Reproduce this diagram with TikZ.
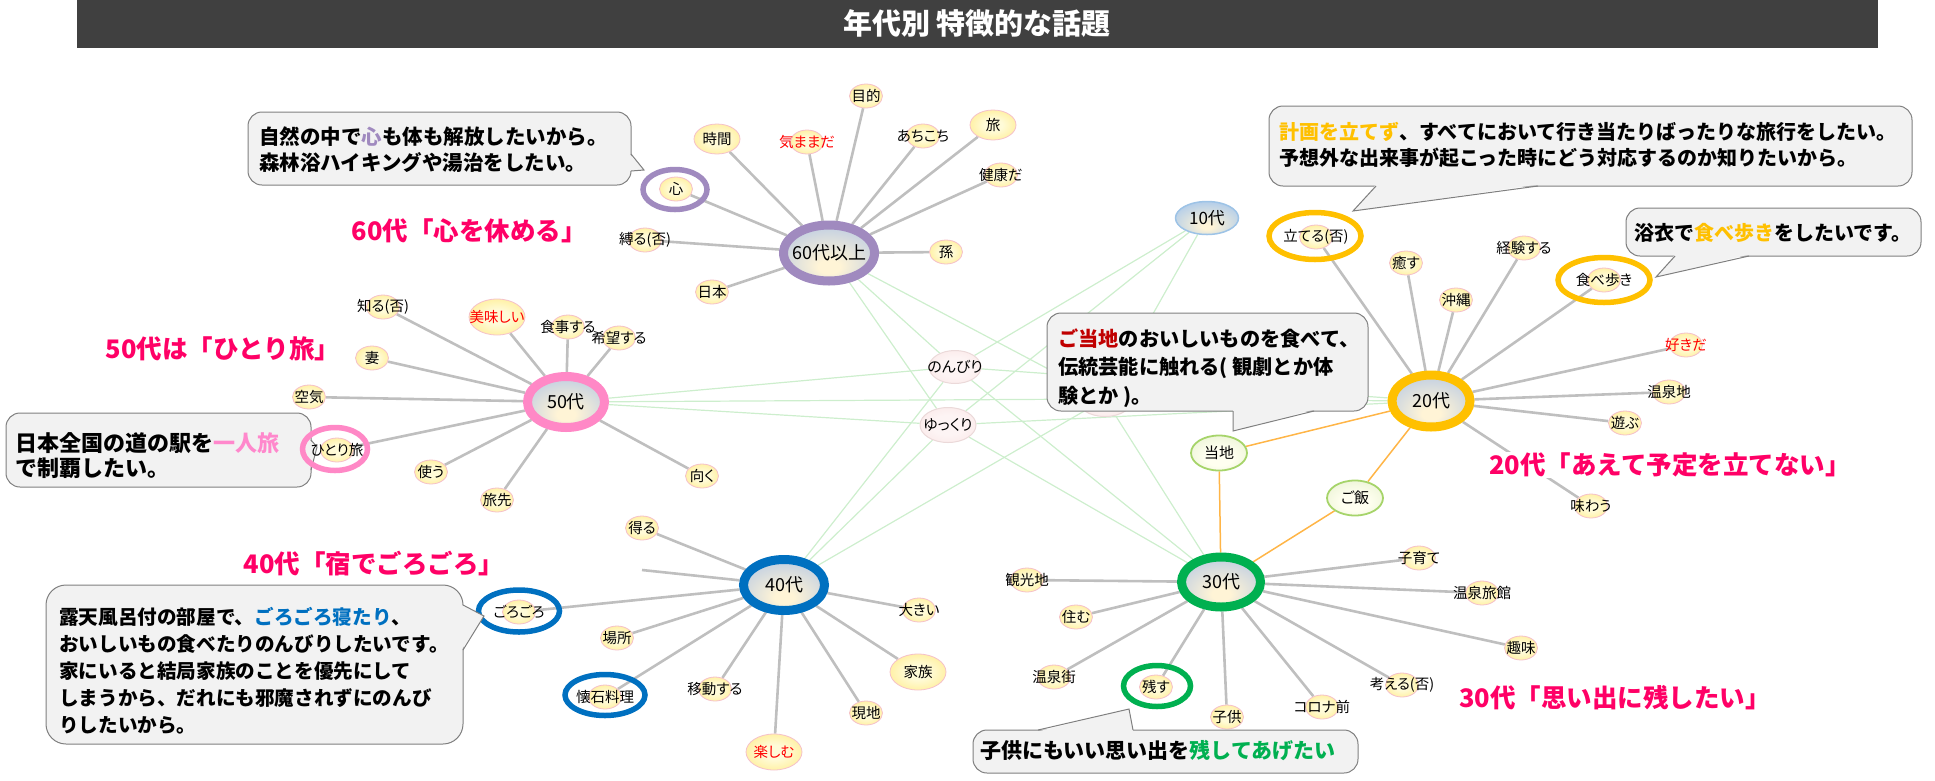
\documentclass[tikz,border=0pt]{standalone}
\usepackage{fontspec}
\setmainfont{Noto Sans CJK JP}
\newfontfamily\jpp{Noto Sans CJK JP}[RawFeature=+palt]
\usetikzlibrary{shapes.geometric}
\definecolor{barcol}{HTML}{404040}
\definecolor{tpink}{HTML}{FF0066}
\definecolor{ring60}{HTML}{A08ABF}
\definecolor{ring50}{HTML}{FF88C6}
\definecolor{ring40}{HTML}{0070C0}
\definecolor{ring30}{HTML}{00B050}
\definecolor{ring20}{HTML}{FFC000}
\definecolor{pinktxt}{HTML}{FF88CC}
\definecolor{darkred}{HTML}{C00000}
\definecolor{wordred}{HTML}{FF0000}
\definecolor{gedgec}{HTML}{BFBFBF}
\definecolor{lgedgec}{HTML}{CDEECD}
\definecolor{oedgec}{HTML}{FFB547}
\definecolor{callfill}{HTML}{F2F2F2}
\definecolor{callline}{HTML}{7F7F7F}
\definecolor{hubblue}{HTML}{AFC4E6}
\definecolor{hubcream}{HTML}{FFF4D6}
\definecolor{wordin}{HTML}{FFFBD8}
\definecolor{wordout}{HTML}{FFE56A}
\definecolor{wordbord}{HTML}{F5C0CA}
\definecolor{pinkin}{HTML}{FDF4F4}
\definecolor{pinkout}{HTML}{F8DEDE}
\definecolor{pinkbord}{HTML}{EBD9D9}
\definecolor{grnin}{HTML}{FFFFF0}
\definecolor{grnout}{HTML}{DDEBC2}
\definecolor{grnbord}{HTML}{A6D46A}
\definecolor{tenbord}{HTML}{9DC3E6}
\definecolor{tenblue}{HTML}{A9C8EC}
\pgfdeclareradialshading{hubshade}{\pgfpoint{0bp}{-14bp}}{color(0bp)=(hubcream); color(6bp)=(hubcream); color(38bp)=(hubblue); color(50bp)=(hubblue)}
\pgfdeclareradialshading{tenshade}{\pgfpoint{0bp}{-14bp}}{color(0bp)=(hubcream); color(4bp)=(hubcream); color(34bp)=(tenblue); color(50bp)=(tenblue)}
\pgfdeclareradialshading{wordshade}{\pgfpoint{0bp}{0bp}}{color(0bp)=(wordin); color(10bp)=(wordin); color(44bp)=(wordout); color(50bp)=(wordout)}
\pgfdeclareradialshading{pinkshade}{\pgfpoint{0bp}{0bp}}{color(0bp)=(pinkin); color(14bp)=(pinkin); color(48bp)=(pinkout); color(50bp)=(pinkout)}
\pgfdeclareradialshading{grnshade}{\pgfpoint{0bp}{-8bp}}{color(0bp)=(grnin); color(12bp)=(grnin); color(48bp)=(grnout); color(50bp)=(grnout)}
\pgfdeclarelayer{edgelayer}
\pgfsetlayers{edgelayer,main}
\tikzset{
  hub/.style={ellipse, draw=#1, line width=9pt, shade, shading=hubshade, inner sep=0pt},
  htext/.style={inner sep=0pt, font=\fontsize{18}{20}\selectfont},
  word/.style={ellipse, draw=wordbord, line width=0.8pt, shade, shading=wordshade, inner sep=0pt},
  wsm/.style={minimum width=33pt, minimum height=24pt},
  wmd/.style={minimum width=46pt, minimum height=30pt},
  wlg/.style={minimum width=56pt, minimum height=36pt},
  wtext/.style={inner sep=0pt, font=\jpp\fontsize{14.5}{16}\selectfont},
  shared/.style={ellipse, draw=pinkbord, line width=1pt, shade, shading=pinkshade, inner sep=0pt, minimum width=54pt, minimum height=34pt},
  stext/.style={inner sep=0pt, font=\jpp\fontsize{15}{17}\selectfont},
  grnnode/.style={ellipse, draw=grnbord, line width=1.8pt, shade, shading=grnshade, inner sep=0pt, minimum width=56pt, minimum height=35pt},
  tennode/.style={ellipse, draw=tenbord, line width=1.5pt, shade, shading=tenshade, inner sep=0pt, minimum width=63pt, minimum height=33pt},
  wring/.style={ellipse, draw=#1, line width=5.5pt, inner sep=0pt},
  gedge/.style={draw=gedgec, line width=2.6pt},
  lgedge/.style={draw=lgedgec, line width=1.2pt},
  oedge/.style={draw=oedgec, line width=1.5pt},
  callbox/.style={fill=callfill, draw=callline, line width=1pt, rounded corners=14pt},
  calltail/.style={draw=callline, line width=1pt},
  ctext/.style={inner sep=0pt, align=left, anchor=west, font=\bfseries\fontsize{20.3}{26}\selectfont},
  ttl/.style={inner sep=1pt, fill=white, text=tpink, font=\bfseries\fontsize{25.5}{28}\selectfont},
}
\newcommand\mkword[5][black]{%
  \node[word,#4] (#2) at (#3) {};
  \node[wtext,text=#1] (#2t) at (#3) {#5};}
\begin{document}
\begin{tikzpicture}[x=1pt,y=-1pt]
\useasboundingbox (0,0) rectangle (1935,780);
% title bar
\fill[barcol] (76.5,0) rectangle (1878,48);
\node[text=white, inner sep=0pt, font=\bfseries\fontsize{29}{32}\selectfont] (bartitle) at (977,24) {年代別 特徴的な話題};

% callout 50 (drawn under the ring)
\draw[callbox] (6,413) rectangle (311,487);
\fill[callfill] (309.5,440) -- (317,447) -- (309.5,470) -- cycle;
\draw[calltail] (311,440) -- (317,447) -- (311,470);
\node[ctext, font=\bfseries\fontsize{22}{25}\selectfont] (c50t) at (15,455.5) {日本全国の道の駅を\textcolor{pinktxt}{一人旅}\\で制覇したい。};

% hubs
\node[hub=ring60, minimum width=91pt, minimum height=56pt] (h60) at (829,253) {};
\node[htext] (h60t) at (h60) {60代以上};
\node[hub=ring50, minimum width=77pt, minimum height=51pt] (h50) at (566,402) {};
\node[htext] (h50t) at (h50) {50代};
\node[hub=ring40, minimum width=81pt, minimum height=51pt] (h40) at (784,585) {};
\node[htext] (h40t) at (h40) {40代};
\node[hub=ring30, minimum width=79pt, minimum height=50pt] (h30) at (1221,582) {};
\node[htext] (h30t) at (h30) {30代};
\node[hub=ring20, minimum width=78pt, minimum height=52pt] (h20) at (1431,401) {};
\node[htext] (h20t) at (h20) {20代};
\node[tennode] (h10) at (1207,218) {};
\node[htext, font=\fontsize{17}{19}\selectfont] (h10t) at (h10) {10代};

% shared words
\node[shared, minimum width=52pt, minimum height=33pt] (nonbiri) at (955,367) {};
\node[stext] (nonbirit) at (nonbiri) {のんびり};
\node[shared, minimum width=56pt, minimum height=35pt] (yukkuri) at (948,425) {};
\node[stext] (yukkurit) at (yukkuri) {ゆっくり};
\node[shared, minimum width=56pt, minimum height=35pt] (hidx) at (1105,399) {};
\node[grnnode] (touchi) at (1219,453) {};
\node[stext] (touchit) at (touchi) {当地};
\node[grnnode] (gohan) at (1355,498) {};
\node[stext] (gohant) at (gohan) {ご飯};

% 60
\mkword{mokuteki}{866,96}{wsm}{目的}
\mkword{jikan}{717,139}{wmd}{時間}
\mkword[wordred]{kimama}{807,142}{wsm}{気ままだ}
\mkword{achikochi}{923,136}{wsm}{あちこち}
\mkword{tabi}{993,125}{wmd}{旅}
\mkword{kenkou}{1001,175}{wsm}{健康だ}
\mkword{mago}{946,252}{wsm}{孫}
\mkword{kokoro}{676,189}{wsm}{心}
\mkword{shibaru}{645,240}{wsm}{縛る(否)}
\mkword{nihon}{712,292}{wsm}{日本}
% 50
\mkword{shiru}{383,307}{wsm}{知る(否)}
\mkword[wordred]{oishii}{497,317}{wlg}{美味しい}
\mkword{shokuji}{568,327}{wsm}{食事する}
\mkword{kibou}{619,338}{wsm}{希望する}
\mkword{tsuma}{372,358}{wsm}{妻}
\mkword{kuuki}{309,397}{wsm}{空気}
\mkword{hitori}{337,450}{wsm}{ひとり旅}
\mkword{tsukau}{431,472}{wsm}{使う}
\mkword{tabisaki}{497,500}{wsm}{旅先}
\mkword{muku}{702,476}{wsm}{向く}
% 40
\mkword{eru}{642,528}{wsm}{得る}
\mkword{gorogoro}{519,612}{wsm}{ごろごろ}
\mkword{basho}{617,638}{wsm}{場所}
\mkword{kaiseki}{605,697}{wsm}{懐石料理}
\mkword{idou}{715,689}{wsm}{移動する}
\mkword[wordred]{tanoshimu}{774,752}{wlg}{楽しむ}
\mkword{genchi}{866,713}{wsm}{現地}
\mkword{kazoku}{918,672}{wlg}{家族}
\mkword{ookii}{919,610}{wsm}{大きい}
\coordinate (dangle) at (642,570);
% 30
\mkword{kankou}{1027,580}{wsm}{観光地}
\mkword{sumu}{1076,617}{wsm}{住む}
\mkword{onsengai}{1054,677}{wsm}{温泉街}
\mkword{nokosu}{1156,687}{wsm}{残す}
\mkword{kodomo}{1227,717}{wsm}{子供}
\mkword{corona}{1322,707}{wsm}{コロナ前}
\mkword{kangaeru}{1402,685}{wsm}{考える(否)}
\mkword{shumi}{1521,648}{wsm}{趣味}
\mkword{ryokan}{1482,593}{wsm}{温泉旅館}
\mkword{kosodate}{1419,558}{wsm}{子育て}
% 20
\mkword{tateru}{1316,237}{wsm}{立てる(否)}
\mkword{iyasu}{1406,263}{wsm}{癒す}
\mkword{okinawa}{1456,300}{wsm}{沖縄}
\mkword{keiken}{1524,248}{wsm}{経験する}
\mkword{tabearuki}{1604,280}{wsm}{食べ歩き}
\mkword[wordred]{sukida}{1686,345}{wsm}{好きだ}
\mkword{onsenchi}{1669,392}{wsm}{温泉地}
\mkword{asobu}{1625,423}{wsm}{遊ぶ}
\mkword{ajiwau}{1591,506}{wsm}{味わう}

% rings around words
\node[wring=ring60, minimum width=64pt, minimum height=40pt] (kokoror) at (675,189.5) {};
\node[wring=ring50, minimum width=65pt, minimum height=43pt] (hitorir) at (335,449) {};
\node[wring=ring40, minimum width=81pt, minimum height=42pt] (gorogoror) at (519,611) {};
\node[wring=ring40, minimum width=80pt, minimum height=41pt] (kaisekir) at (605,695) {};
\node[wring=ring30, minimum width=67pt, minimum height=41pt] (nokosur) at (1157,686) {};
\node[wring=ring20, minimum width=92pt, minimum height=47pt] (taterur) at (1315,236) {};
\node[wring=ring20, minimum width=92pt, minimum height=45pt] (tabearukir) at (1604,280) {};

% edges
\begin{pgfonlayer}{edgelayer}
\foreach \s in {nonbiri,yukkuri,hidx}
  \foreach \h in {h60,h50,h40,h30,h20,h10}
    \draw[lgedge] (\s) -- (\h);
\foreach \w in {mokuteki,jikan,kimama,achikochi,tabi,kenkou,mago,kokoro,shibaru,nihon}
  \draw[gedge] (h60) -- (\w);
\foreach \w in {shiru,oishii,shokuji,kibou,tsuma,kuuki,hitori,tsukau,tabisaki,muku}
  \draw[gedge] (h50) -- (\w);
\foreach \w in {eru,gorogoro,basho,kaiseki,idou,tanoshimu,genchi,kazoku,ookii,dangle}
  \draw[gedge] (h40) -- (\w);
\foreach \w in {kankou,sumu,onsengai,nokosu,kodomo,corona,kangaeru,shumi,ryokan,kosodate}
  \draw[gedge] (h30) -- (\w);
\foreach \w in {tateru,iyasu,okinawa,keiken,tabearuki,sukida,onsenchi,asobu,ajiwau}
  \draw[gedge] (h20) -- (\w);
\draw[oedge] (touchi) -- (h20);
\draw[oedge] (touchi) -- (h30);
\draw[oedge] (gohan) -- (h20);
\draw[oedge] (gohan) -- (h30);
\end{pgfonlayer}

% callouts
% 60
\draw[callbox] (248,112) rectangle (631,185);
\fill[callfill] (629.5,154) -- (644,170) -- (629.5,171) -- cycle;
\draw[calltail] (631,154) -- (644,170) -- (631,171);
\node[ctext, font=\bfseries\fontsize{20.5}{26}\selectfont] (c60t) at (259,150) {自然の中で\textcolor{ring60}{心}も体も解放したいから。\\森林浴ハイキングや湯治をしたい。};
% 40
\draw[callbox, rounded corners=20pt] (46,585) rectangle (463,744);
\fill[callfill] (461.5,605) -- (484,616) -- (461.5,650) -- cycle;
\draw[calltail] (463,605) -- (484,616) -- (463,650);
\node[ctext, font=\bfseries\fontsize{19.6}{27}\selectfont] (c40t) at (59,671) {露天風呂付の部屋で、\textcolor{ring40}{ごろごろ寝たり}、\\おいしいもの食べたりのんびりしたいです。\\家にいると結局家族のことを優先にして\\しまうから、だれにも邪魔されずにのんび\\りしたいから。};
% 30
\draw[callbox] (973,730) rectangle (1358,773);
\fill[callfill] (1038,731.5) -- (1129,709) -- (1133,731.5) -- cycle;
\draw[calltail] (1038,730) -- (1129,709) -- (1133,730);
\node[ctext, font=\bfseries\fontsize{21}{24}\selectfont] (c30t) at (980,751) {子供にもいい思い出を\textcolor{ring30}{残してあげたい}};
% 20 top
\draw[callbox] (1269,106) rectangle (1912,186);
\fill[callfill] (1376,184.5) -- (1353,211) -- (1538,184.5) -- cycle;
\draw[calltail] (1376,186) -- (1353,211) -- (1538,186);
\node[ctext, font=\bfseries\fontsize{20}{26}\selectfont] (c20t) at (1279,145) {\textcolor{ring20}{計画を立てず}、すべてにおいて行き当たりばったりな旅行をしたい。\\予想外な出来事が起こった時にどう対応するのか知りたいから。};
% food
\draw[callbox] (1626,208) rectangle (1921,256);
\fill[callfill] (1675,254.5) -- (1656,277) -- (1749,254.5) -- cycle;
\draw[calltail] (1675,256) -- (1656,277) -- (1749,256);
\node[ctext, font=\bfseries\fontsize{20}{24}\selectfont] (cft) at (1634,233) {浴衣で\textcolor{ring20}{食べ歩き}をしたいです。};
% center
\draw[callbox] (1047,313) rectangle (1368,411);
\fill[callfill] (1233,409.5) -- (1233,431) -- (1314,409.5) -- cycle;
\draw[calltail] (1233,411) -- (1233,431) -- (1314,411);
\node[ctext, font=\bfseries\fontsize{20.2}{28.5}\selectfont] (cct) at (1058,368) {\textcolor{darkred}{ご当地}のおいしいものを食べて、\\伝統芸能に触れる( 観劇とか体\\験とか )。};

% pink titles
\node[ttl] (t60) at (469,231) {60代「心を休める」};
\node[ttl] (t50) at (223,349) {50代は「ひとり旅」};
\node[ttl] (t40) at (374,564) {40代「宿でごろごろ」};
\node[ttl] (t30) at (1615,698) {30代「思い出に残したい」};
\node[ttl] (t20) at (1670,465) {20代「あえて予定を立てない」};
\end{tikzpicture}
\end{document}
